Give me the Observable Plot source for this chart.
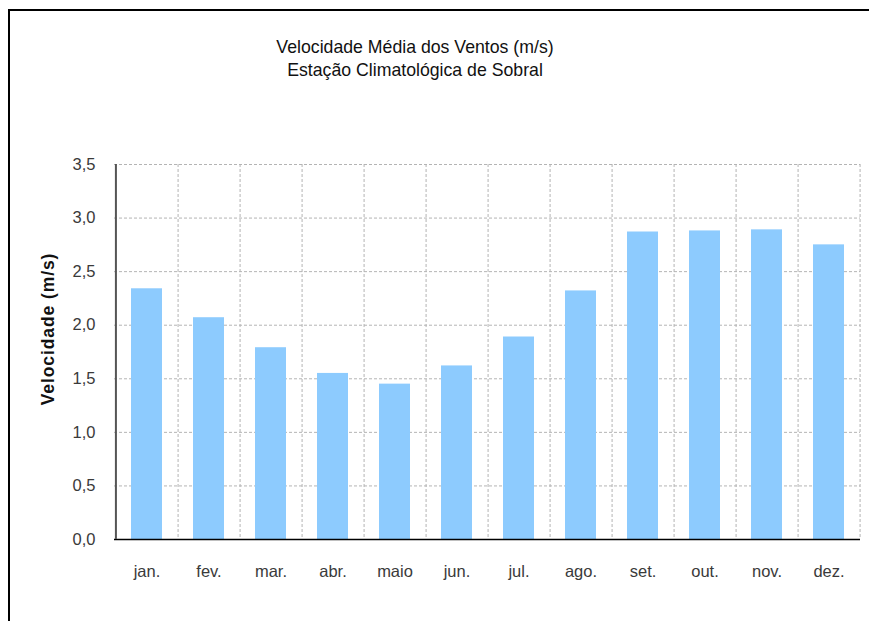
<!DOCTYPE html>
<html><head><meta charset="utf-8">
<script src="https://cdn.jsdelivr.net/npm/d3@7"></script>
<script src="https://cdn.jsdelivr.net/npm/@observablehq/plot@0.6"></script>
<style>
body{margin:0;background:#fff;}
#wrap{position:relative;width:869px;height:621px;overflow:hidden;font-family:"Liberation Sans",Arial,sans-serif;}
#border{position:absolute;left:8px;top:9px;width:900px;height:700px;border-left:2px solid #000;border-top:2px solid #000;}
#chart{position:absolute;left:0;top:0;}
.title{position:absolute;left:0;width:830px;text-align:center;font-size:17.7px;color:#111;line-height:22px;}
.ylab{letter-spacing:0.9px;}
</style></head>
<body>
<div id="wrap">
<div id="border"></div>
<div id="chart"></div>
<div class="title" style="top:36px">Velocidade Média dos Ventos (m/s)</div>
<div class="title" style="top:59px">Estação Climatológica de Sobral</div>
</div>
<script>
const months = ["jan.","fev.","mar.","abr.","maio","jun.","jul.","ago.","set.","out.","nov.","dez."];
const speeds = [2.34,2.07,1.79,1.55,1.45,1.62,1.89,2.32,2.87,2.88,2.89,2.75];
const yTicks = [0,0.5,1,1.5,2,2.5,3,3.5];
const yLabel = "Velocidade (m/s)";

const data = months.map((m,i)=>({month:m, speed:speeds[i]}));
const W=869,H=621,mL=114,mR=9,mT=164,mB=82;
const step=(W-mL-mR)/months.length;
const fmt = d => d.toFixed(1).replace(".", ",");

const chart = Plot.plot({
  width:W,height:H,marginLeft:mL,marginRight:mR,marginTop:mT,marginBottom:mB,
  style:{fontFamily:'"Liberation Sans",Arial,sans-serif',fontSize:"16px",color:"#3a3a3a",background:"transparent",overflow:"visible"},
  x:{domain:months,paddingInner:0.5,paddingOuter:0.25,label:null},
  y:{domain:[0,3.5],label:null},
  marks:[
    Plot.gridY(yTicks,{stroke:"#b4b4b4",strokeOpacity:1,strokeDasharray:"3,2"}),
    Plot.ruleX(months,{x:d=>d,dx:step/2,stroke:"#b4b4b4",strokeDasharray:"3,2"}),
    Plot.barY(data,{x:"month",y:"speed",fill:"#8DCBFE"}),
    Plot.ruleY([0],{stroke:"#000",strokeWidth:1.5}),
    Plot.ruleX([months[0]],{dx:-step/2,stroke:"#555",strokeWidth:2}),
    Plot.axisY(yTicks,{tickSize:0,tickPadding:19,tickFormat:fmt,label:null,fontSize:16.5}),
    Plot.axisX({tickSize:0,tickPadding:26,label:null,fontSize:16.5}),
    Plot.text([yLabel],{frameAnchor:"left",textAnchor:"middle",rotate:-90,dx:-66,dy:-23,fontWeight:"bold",fontSize:17.5,fill:"#111"})
  ]
});
d3.select(chart).selectAll("text").filter(function(){return this.textContent===yLabel;}).classed("ylab",true);
document.getElementById("chart").appendChild(chart);
</script>
</body></html>
